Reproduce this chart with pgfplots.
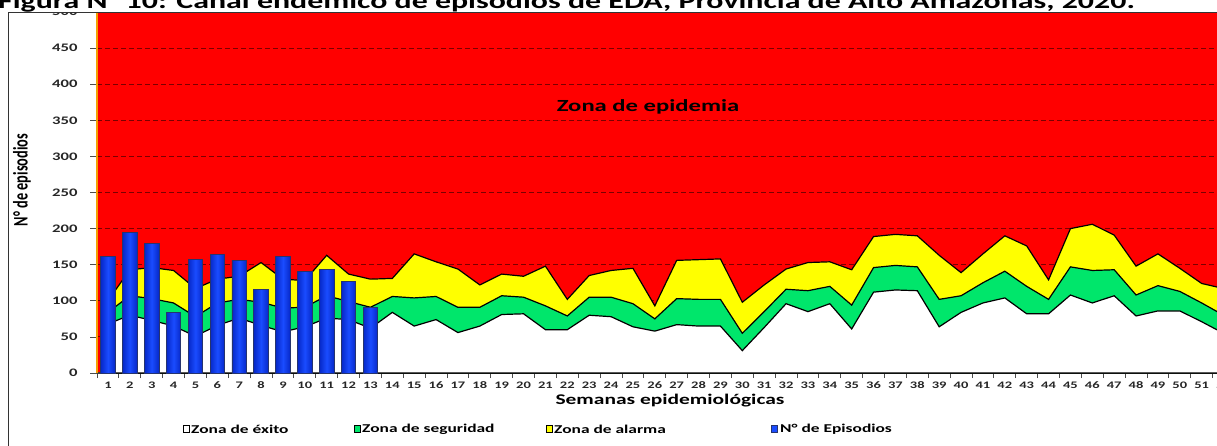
\documentclass[border=0pt]{standalone}
\usepackage{fontspec}
\setmainfont{Carlito}[FakeStretch=1.45]
\newfontfamily\cfn{Carlito}
\usepackage{pgfplots}
\usepackage{pgfplotstable}
\pgfplotsset{compat=1.18}
\definecolor{zred}{HTML}{FF0000}
\definecolor{zyellow}{HTML}{FFFF00}
\definecolor{zgreen}{HTML}{00E66B}
\definecolor{bardark}{HTML}{0628C8}
\definecolor{barlight}{HTML}{1A4CFF}
\definecolor{baredge}{HTML}{26346E}
\definecolor{gridc}{HTML}{7A0000}
\definecolor{axorange}{HTML}{F5A000}

% semana, limite alarma (u), limite seguridad (m), limite exito (l)
\pgfplotstableread{
w u m l
1 100 84 68
2 143 107 80
3 146 103 73
4 142 97 65
5 117 78 51
6 130 97 66
7 134 102 76
8 153 98 66
9 130 90 57
10 128 91 64
11 163 107 76
12 137 99 74
13 130 91 62
14 131 106 84
15 165 104 65
16 154 106 74
17 144 91 56
18 122 91 65
19 137 107 81
20 134 105 82
21 148 93 60
22 102 79 60
23 135 105 80
24 142 105 78
25 145 96 64
26 93 75 58
27 156 103 67
28 157 102 65
29 158 102 65
30 98 55 31
31 122 85 63
32 144 116 96
33 153 114 85
34 154 120 96
35 143 94 61
36 189 146 112
37 192 149 115
38 190 147 114
39 163 102 64
40 139 107 84
41 165 125 97
42 190 141 104
43 176 120 82
44 129 102 82
45 200 147 108
46 206 142 97
47 191 143 107
48 148 108 79
49 165 121 86
50 145 113 86
51 124 97 71
52 117 80 55
}\zonas

\pgfplotstableread{
w n
1 162
2 195
3 179
4 84
5 157
6 164
7 156
8 116
9 162
10 141
11 143
12 127
13 91
}\episodios

\begin{document}
\begin{tikzpicture}[x=1pt,y=1pt]
\node[anchor=base west,inner sep=0pt,font=\fontsize{22}{23}\selectfont\bfseries]
  at (-2,436.5) {Figura N° 10: Canal endémico de episodios de EDA, Provincia de Alto Amazonas, 2020.};
\begin{scope}
\clip (8,-5) rectangle (1230,432.3);
\begin{scope}[shift={(97pt,72pt)}]
\begin{axis}[
  anchor=south west,
  scale only axis,width=1137.5pt,height=361pt,
  xmin=0.5,xmax=52.5,ymin=0,ymax=500,
  axis background/.style={fill=zred},
  separate axis lines,
  x axis line style={black!75,line width=1.3pt},
  y axis line style={axorange,line width=1.2pt},
  tick pos=left,
  tick align=outside,
  major tick length=7pt,minor tick length=5pt,
  every tick/.style={black!70,line width=0.8pt},
  ytick={0,50,...,500},
  xtick={1,...,52},
  major x tick style={draw=none},
  minor xtick={0.5,1.5,...,52.5},
  ymajorgrids,
  grid style={gridc,line width=0.9pt,dash pattern=on 5pt off 3pt},
  /pgf/number format/assume math mode=true,
  yticklabel style={font=\fontsize{11.5}{12}\selectfont\bfseries,text=black!85,xshift=-9pt},
  xticklabel style={font=\fontsize{10}{11}\selectfont\bfseries,text=black!85,yshift=2pt},
]
\addplot[fill=zyellow,draw=black,line width=1.2pt] table[x=w,y=u]{\zonas} \closedcycle;
\addplot[fill=zgreen,draw=black,line width=1.2pt] table[x=w,y=m]{\zonas} \closedcycle;
\addplot[fill=white,draw=black,line width=1.2pt] table[x=w,y=l]{\zonas} \closedcycle;
% one bar per plot so that each bar gets its own shading
\pgfplotsinvokeforeach{1,...,13}{
\addplot[ybar,bar width=14.5pt,draw=baredge,line width=0.8pt,
  left color=bardark,right color=bardark,middle color=barlight,
  restrict x to domain=#1:#1] table[x=w,y=n]{\episodios};
}
\end{axis}
\end{scope}
\node[font=\fontsize{17}{18}\selectfont\bfseries] at (648,338) {Zona de epidemia};
\node[rotate=90] at (22,265) {\scalebox{1}[1.45]{\cfn\bfseries\fontsize{14.3}{15}\selectfont N° de episodios}};
\node[font=\fontsize{14.8}{15}\selectfont\bfseries] at (670,44) {Semanas epidemiológicas};
% leyenda
\begin{scope}[every node/.style={anchor=west,inner sep=0pt,font=\fontsize{12}{13}\selectfont\bfseries}]
\draw[black,line width=0.9pt,fill=white] (183.5,12.5) rectangle (189.5,19.5);
\node at (191,16) {Zona de éxito};
\draw[black,line width=0.9pt,fill=zgreen] (354.5,12.5) rectangle (360.5,19.5);
\node at (362,16) {Zona de seguridad};
\draw[black,line width=0.9pt,fill=zyellow] (546.5,12.5) rectangle (552.5,19.5);
\node at (554,16) {Zona de alarma};
\draw[baredge,line width=0.9pt,fill=barlight] (771.5,12.5) rectangle (777.5,19.5);
\node at (780,16) {N° de Episodios};
\end{scope}
\end{scope}
\draw[black!80,line width=1pt] (8,-2) -- (8,432.3) -- (1230,432.3);
\pgfresetboundingbox
\path[use as bounding box] (0,0) rectangle (1217,445);
\end{tikzpicture}
\end{document}
